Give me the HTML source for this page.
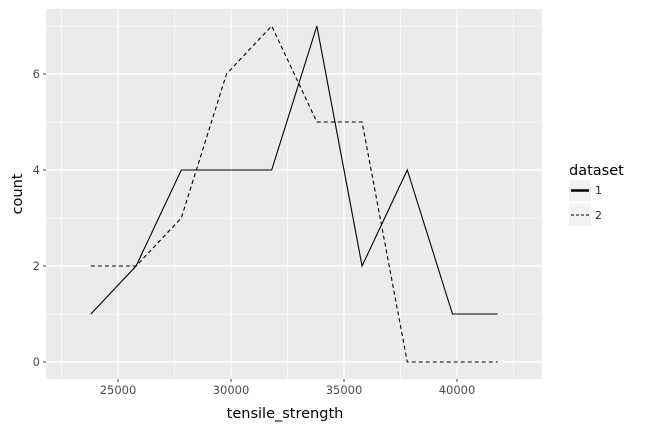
<!DOCTYPE html>
<html><head><meta charset="utf-8"><style>
body{margin:0;background:#fff;}
svg{display:block;font-family:"DejaVu Sans","Liberation Sans",sans-serif;}
</style></head><body>
<svg id="chart" width="653" height="431">
<rect x="46" y="9" width="496" height="370" fill="#ebebeb"/>
<g id="grid"></g><g id="series"></g><g id="axes"></g>
<text x="285" y="418" font-size="14.5" text-anchor="middle" fill="#000">tensile_strength</text>
<text transform="translate(22,194) rotate(-90)" font-size="14.5" text-anchor="middle" fill="#000">count</text>
<g>
<text x="569" y="175" font-size="14.5" fill="#000">dataset</text>
<rect x="569" y="180" width="22" height="21" fill="#f2f2f2"/>
<line x1="571" x2="589" y1="190.5" y2="190.5" stroke="#000" stroke-width="2.5"/>
<text x="595" y="194" font-size="11" fill="#222">1</text>
<rect x="569" y="204" width="22" height="22" fill="#f2f2f2"/>
<line x1="571" x2="589" y1="215" y2="215" stroke="#000" stroke-width="1" stroke-dasharray="3,2"/>
<text x="595" y="219" font-size="11" fill="#222">2</text>
</g>
</svg>
<script>
const xValues=[23800,25800,27800,29800,31800,33800,35800,37800,39800,41800];
const series1=[1,2,4,4,4,7,2,4,1,1];
const series2=[2,2,3,6,7,5,5,0,0,0];
const xTicks=[25000,30000,35000,40000];
const yTicks=[0,2,4,6];
const NS="http://www.w3.org/2000/svg";
const X0=46,X1=542,Y0=379,Y1=9;
const xMin=21814,xMax=43761,yMin=-0.354,yMax=7.354;
const sx=v=>X0+(v-xMin)/(xMax-xMin)*(X1-X0);
const sy=v=>Y0-(v-yMin)/(yMax-yMin)*(Y0-Y1);
function mk(tag,attrs,parent){const e=document.createElementNS(NS,tag);for(const k in attrs)e.setAttribute(k,attrs[k]);parent.appendChild(e);return e;}
const grid=document.getElementById('grid'),axes=document.getElementById('axes'),ser=document.getElementById('series');
const xstep=xTicks[1]-xTicks[0],ystep=yTicks[1]-yTicks[0];
for(let v=xTicks[0]-xstep/2;v<=xMax;v+=xstep){const l=mk('line',{x1:sx(v),x2:sx(v),y1:Y1,y2:Y0,stroke:'#fff','stroke-width':0.6},grid);

}
for(let v=yTicks[0]+ystep/2;v<=yMax;v+=ystep){const l=mk('line',{x1:X0,x2:X1,y1:sy(v),y2:sy(v),stroke:'#fff','stroke-width':0.6},grid);

}
xTicks.forEach(v=>{const x=sx(v);
const g=mk('line',{x1:x,x2:x,y1:Y1,y2:Y0,stroke:'#fff','stroke-width':1.2},grid);


mk('line',{x1:x,x2:x,y1:Y0,y2:Y0+3,stroke:'#333','stroke-width':1},axes);
const t=mk('text',{x:x,y:Y0+15,'font-size':11.5,'text-anchor':'middle',fill:'#4d4d4d'},axes);t.textContent=v;

});
yTicks.forEach(v=>{const y=sy(v);
const g=mk('line',{x1:X0,x2:X1,y1:y,y2:y,stroke:'#fff','stroke-width':1.2},grid);


mk('line',{x1:X0-3,x2:X0,y1:y,y2:y,stroke:'#333','stroke-width':1},axes);
const t=mk('text',{x:X0-6,y:y+4,'font-size':11.5,'text-anchor':'end',fill:'#4d4d4d'},axes);t.textContent=v;

});
function line(vals,dash,name){const p=mk('polyline',{points:vals.map((v,i)=>sx(xValues[i])+','+sy(v)).join(' '),fill:'none',stroke:'#000','stroke-width':1.1},ser);
if(dash)p.setAttribute('stroke-dasharray',dash);

}
line(series1,null,'line-dataset-1');
line(series2,'4,3','line-dataset-2');
</script>
</body></html>
